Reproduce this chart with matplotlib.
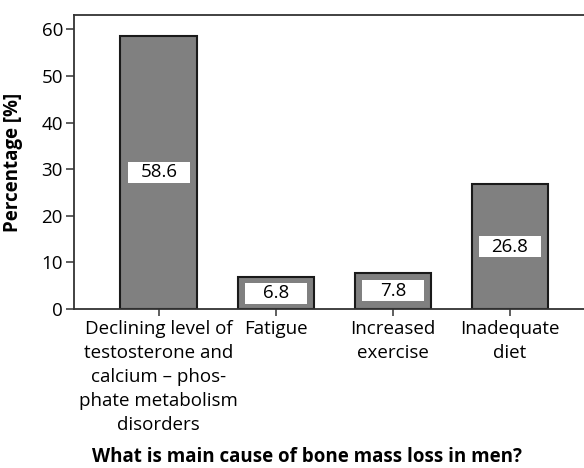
import matplotlib.pyplot as plt

causes = ['Declining level of\ntestosterone and\ncalcium \u2013 phos-\nphate metabolism\ndisorders',
          'Fatigue',
          'Increased\nexercise',
          'Inadequate\ndiet']
percent = [58.6, 6.8, 7.8, 26.8]

plt.rcParams['font.family'] = ['Open Sans', 'DejaVu Sans']
plt.rcParams['font.size'] = 13.5

fig = plt.figure(figsize=(5.84, 4.68), dpi=100)
ax = fig.add_axes([74/584, 1 - 309/468, 1 - 74/584, (309 - 15)/468])

x = list(range(len(percent)))
ax.bar(x, percent, width=0.655, color='#808080', edgecolor='#1a1a1a', linewidth=1.5, zorder=2)

# white label boxes in the middle of each bar
box_h = 4.5
ax.bar(x, [box_h]*len(percent), bottom=[p/2 - box_h/2 for p in percent],
       width=0.53, color='white', linewidth=0, zorder=3)
for i, p in enumerate(percent):
    ax.text(i, p/2, '{}'.format(p), ha='center', va='center', fontsize=13.5, zorder=4)

ax.set_xlim(-0.724, 3.632)
ax.set_ylim(0, 63.1)
ax.set_yticks([0, 10, 20, 30, 40, 50, 60])
ax.set_xticks(x)
ax.set_xticklabels(causes, linespacing=1.43)

for s in ['left', 'bottom', 'top']:
    ax.spines[s].set_color('#333333')
    ax.spines[s].set_linewidth(1.3)
ax.spines['right'].set_visible(False)
ax.tick_params(axis='y', length=6, width=1.1, color='#333333', pad=2)
ax.tick_params(axis='x', length=5, width=1.1, color='#333333', pad=3)

ax.set_ylabel('Percentage [%]', fontweight='bold')
ax.yaxis.set_label_coords(-0.1, 0.5)
ax.set_xlabel('What is main cause of bone mass loss in men?', fontweight='bold')
ax.xaxis.label.set_va('baseline')
ax.xaxis.set_label_coords(0.457, -0.522)

plt.savefig('out.png', dpi=100)
